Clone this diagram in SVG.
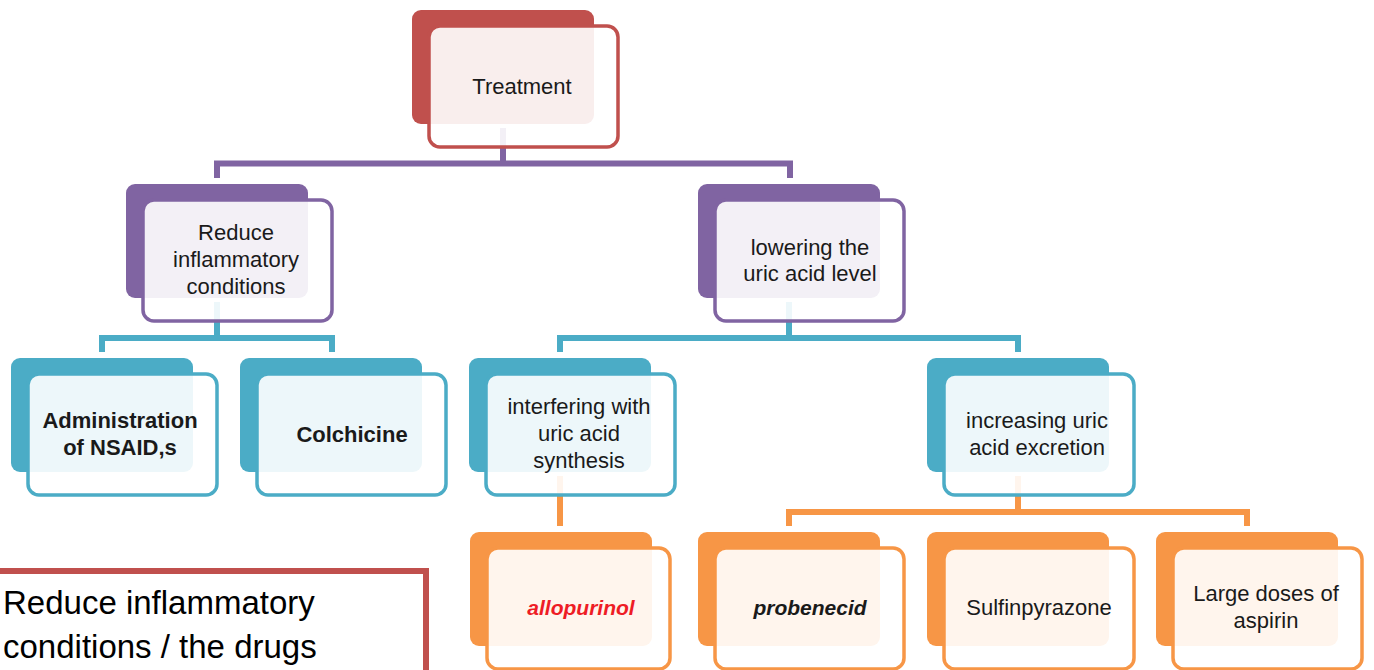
<svg xmlns="http://www.w3.org/2000/svg" width="1374" height="670" viewBox="0 0 1374 670">
<style>
  .bg { fill: #ffffff; }
  .back { stroke: none; }
  .front { fill: #ffffff; fill-opacity: 0.9; stroke-width: 3.5; }
  .red .back { fill: #C0504D; } .red .front { stroke: #C0504D; }
  .pur .back { fill: #8064A2; } .pur .front { stroke: #8064A2; }
  .teal .back { fill: #4BACC6; } .teal .front { stroke: #4BACC6; }
  .org .back { fill: #F79646; } .org .front { stroke: #F79646; }
  .lbl { font-family: "Liberation Sans", Arial, sans-serif; font-size: 22px; fill: #1a1a1a; text-anchor: middle; }
  .b { font-weight: bold; }
  .bi { font-weight: bold; font-style: italic; font-size: 21px; }
  .conn { fill: none; stroke-width: 6; stroke-linejoin: miter; }
  .c-pur { stroke: #8064A2; } .c-teal { stroke: #4BACC6; } .c-org { stroke: #F79646; }
  .note { font-family: "Liberation Sans", Arial, sans-serif; font-size: 33px; fill: #000000; }
</style>
<rect class="bg" x="0" y="0" width="1374" height="670"/>

<g id="connectors">
  <path class="conn c-pur" d="M503,128 V163.5 M217,178 V163.5 H790 V178"/>
  <path class="conn c-teal" d="M217,302 V338 M102,352 V338 H332 V352"/>
  <path class="conn c-teal" d="M789,302 V338 M560,352 V338 H1018 V352"/>
  <path class="conn c-org" d="M560,476 V526"/>
  <path class="conn c-org" d="M1018,476 V512 M789,526 V512 H1247 V526"/>
</g>

<g id="node-treatment" class="red">
  <rect class="back" x="412" y="10" width="182" height="114" rx="9"/>
  <rect class="front" x="429" y="26" width="189" height="121" rx="11"/>
  <text class="lbl" x="522" y="94">Treatment</text>
</g>

<g id="node-reduce" class="pur">
  <rect class="back" x="126" y="184" width="182" height="114" rx="9"/>
  <rect class="front" x="143" y="200" width="189" height="121" rx="11"/>
  <text class="lbl" x="236" y="240">Reduce</text>
  <text class="lbl" x="236" y="267">inflammatory</text>
  <text class="lbl" x="236" y="294">conditions</text>
</g>

<g id="node-lowering" class="pur">
  <rect class="back" x="698" y="184" width="182" height="114" rx="9"/>
  <rect class="front" x="715" y="200" width="189" height="121" rx="11"/>
  <text class="lbl" x="810" y="255">lowering the</text>
  <text class="lbl" x="810" y="281">uric acid level</text>
</g>

<g id="node-nsaid" class="teal">
  <rect class="back" x="11" y="358" width="182" height="114" rx="9"/>
  <rect class="front" x="28" y="374" width="189" height="121" rx="11"/>
  <text class="lbl b" x="120" y="428">Administration</text>
  <text class="lbl b" x="120" y="455">of NSAID,s</text>
</g>

<g id="node-colchicine" class="teal">
  <rect class="back" x="240" y="358" width="182" height="114" rx="9"/>
  <rect class="front" x="257" y="374" width="189" height="121" rx="11"/>
  <text class="lbl b" x="352" y="442">Colchicine</text>
</g>

<g id="node-interfering" class="teal">
  <rect class="back" x="469" y="358" width="182" height="114" rx="9"/>
  <rect class="front" x="486" y="374" width="189" height="121" rx="11"/>
  <text class="lbl" x="579" y="414">interfering with</text>
  <text class="lbl" x="579" y="441">uric acid</text>
  <text class="lbl" x="579" y="468">synthesis</text>
</g>

<g id="node-increasing" class="teal">
  <rect class="back" x="927" y="358" width="182" height="114" rx="9"/>
  <rect class="front" x="944" y="374" width="190" height="121" rx="11"/>
  <text class="lbl" x="1037" y="428">increasing uric</text>
  <text class="lbl" x="1037" y="455">acid excretion</text>
</g>

<g id="node-allopurinol" class="org">
  <rect class="back" x="470" y="532" width="182" height="114" rx="9"/>
  <rect class="front" x="487" y="548" width="183" height="121" rx="11"/>
  <text class="lbl bi" x="581" y="615" style="fill:#EE1C25">allopurinol</text>
</g>

<g id="node-probenecid" class="org">
  <rect class="back" x="698" y="532" width="182" height="114" rx="9"/>
  <rect class="front" x="715" y="548" width="189" height="121" rx="11"/>
  <text class="lbl bi" x="810" y="615">probenecid</text>
</g>

<g id="node-sulfinpyrazone" class="org">
  <rect class="back" x="927" y="532" width="182" height="114" rx="9"/>
  <rect class="front" x="944" y="548" width="190" height="121" rx="11"/>
  <text class="lbl" x="1039" y="615">Sulfinpyrazone</text>
</g>

<g id="node-aspirin" class="org">
  <rect class="back" x="1156" y="532" width="182" height="114" rx="9"/>
  <rect class="front" x="1173" y="548" width="189" height="121" rx="11"/>
  <text class="lbl" x="1266" y="601">Large doses of</text>
  <text class="lbl" x="1266" y="628">aspirin</text>
</g>

<g id="note">
  <rect x="-10" y="571" width="436" height="140" fill="#ffffff" stroke="#C0504D" stroke-width="6"/>
  <text class="note" x="3" y="614">Reduce inflammatory</text>
  <text class="note" x="3" y="658">conditions / the drugs</text>
</g>
</svg>
